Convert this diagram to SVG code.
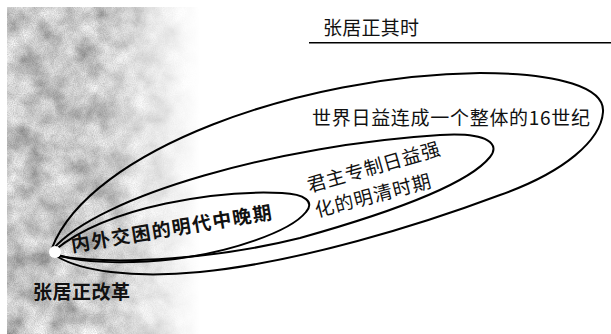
<svg xmlns="http://www.w3.org/2000/svg" width="611" height="334" viewBox="0 0 611 334">
  <style>
    .t { font-family: "Noto Sans CJK SC", "Liberation Serif", sans-serif; font-size: 19px; fill: #111; }
    .b { font-weight: bold; }
    .loop { fill: none; stroke: #000; stroke-width: 2; stroke-linejoin: round; stroke-linecap: round; }
  </style>
  <defs>
    <linearGradient id="fadeG" gradientUnits="userSpaceOnUse" x1="0" y1="0" x2="200" y2="0">
      <stop offset="0" stop-color="#fff"/>
      <stop offset="0.5" stop-color="#f0f0f0"/>
      <stop offset="0.75" stop-color="#707070"/>
      <stop offset="1" stop-color="#000"/>
    </linearGradient>
    <mask id="fade" maskUnits="userSpaceOnUse" x="0" y="0" width="611" height="334">
      <rect x="0" y="0" width="611" height="334" fill="url(#fadeG)"/>
    </mask>
    <filter id="noise" x="0" y="0" width="1" height="1">
      <feTurbulence type="fractalNoise" baseFrequency="0.04" numOctaves="4" seed="7" result="coarse"/>
      <feColorMatrix in="coarse" type="matrix" values="1.1 0 0 0 0.1  1.1 0 0 0 0.1  1.1 0 0 0 0.1  0 0 0 0 1" result="c2"/>
      <feTurbulence type="fractalNoise" baseFrequency="0.9" numOctaves="1" seed="3" result="fine"/>
      <feColorMatrix in="fine" type="matrix" values="0 0 0 0 0  0 0 0 0 0  0 0 0 0 0  0.6 0 0 0 -0.15" result="f2"/>
      <feComposite in="f2" in2="c2" operator="over"/>
    </filter>
  </defs>

  <rect x="0" y="0" width="611" height="334" fill="#fff"/>
  <g id="background" mask="url(#fade)">
    <rect x="7" y="7" width="220" height="327" fill="#b0b0b0" filter="url(#noise)"/>
  </g>

  <g id="title">
    <text class="t" x="323" y="26.5" dominant-baseline="central" textLength="96" lengthAdjust="spacing">张居正其时</text>
    <line x1="309" y1="42.7" x2="611" y2="42.7" stroke="#000" stroke-width="1.5"/>
  </g>

  <g id="connectors">
    <path id="outer-loop" class="loop" d="M52,248 C90,150 300,75 480,73 C560,73 605,88 603,112 C601,140 565,172 500,195 C420,225 300,262 200,272 C130,279 80,270 58,257"/>
    <path id="middle-loop" class="loop" d="M53,249 C100,195 280,145 440,135 C490,132 500,145 490,157 C470,182 400,210 300,238 C220,258 120,266 58,256"/>
    <path id="inner-loop" class="loop" d="M55,250 C110,205 220,190 282,193 C305,194 315,202 306,212 C290,232 230,252 175,259 C120,265 80,262 58,255"/>
  </g>

  <g id="node-world">
    <text class="t" x="312" y="116.5" dominant-baseline="central" textLength="278" lengthAdjust="spacing">世界日益连成一个整体的16世纪</text>
  </g>

  <g id="node-mingqing">
    <text class="t" x="373" y="165.5" text-anchor="middle" dominant-baseline="central" textLength="137" lengthAdjust="spacing" transform="rotate(-15.9 373 165.5)">君主专制日益强</text>
    <text class="t" x="372.5" y="194" text-anchor="middle" dominant-baseline="central" textLength="119" lengthAdjust="spacing" transform="rotate(-14.7 372.5 194)">化的明清时期</text>
  </g>

  <g id="node-ming">
    <text class="t b" x="171" y="227" text-anchor="middle" dominant-baseline="central" textLength="203" lengthAdjust="spacing" transform="rotate(-9.4 171 227)">内外交困的明代中晚期</text>
  </g>

  <g id="node-reform">
    <circle cx="55" cy="252" r="6" fill="#fff"/>
    <text class="t b" x="33" y="290" dominant-baseline="central" textLength="97" lengthAdjust="spacing">张居正改革</text>
  </g>
</svg>
